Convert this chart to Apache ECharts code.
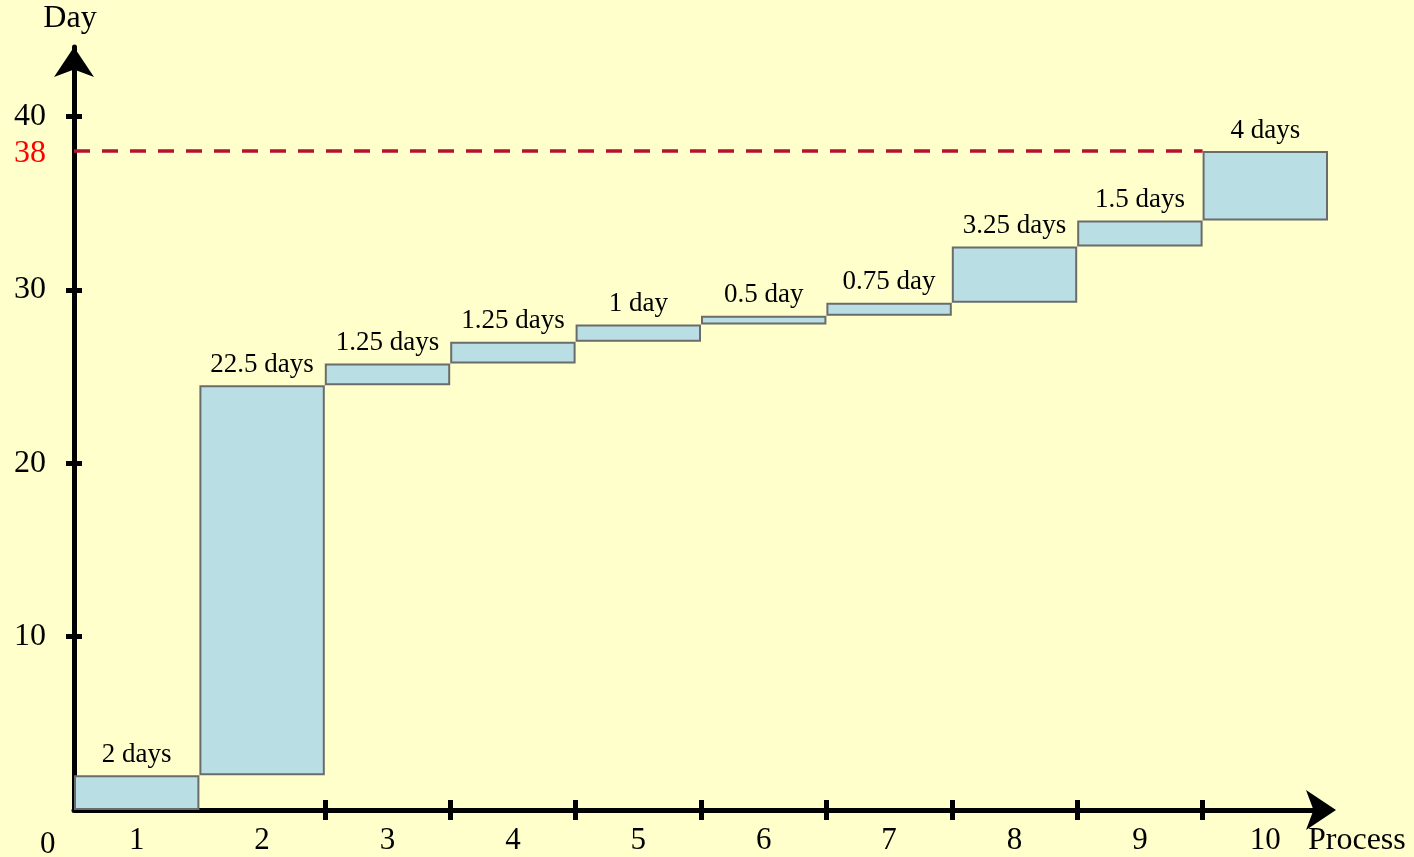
<!DOCTYPE html>
<html>
<head>
<meta charset="utf-8">
<script src="https://cdn.jsdelivr.net/npm/echarts@6/dist/echarts.min.js"></script>
<style>
  html, body { margin: 0; padding: 0; background: #FFFFCC; }
  #chart { width: 1414px; height: 857px; }
</style>
</head>
<body>
<div id="chart"></div>
<script>
// 工序与每道工序的天数
const processes = ['1', '2', '3', '4', '5', '6', '7', '8', '9', '10'];
const durations = [2, 22.5, 1.25, 1.25, 1, 0.5, 0.75, 3.25, 1.5, 4];
const yTickValues = [10, 20, 30, 40];
const xTickBoundaries = [2, 3, 4, 5, 6, 7, 8, 9];
const deadline = 38;

// 瀑布图的底座（累计天数）
const bases = [];
let acc = 0;
durations.forEach(d => { bases.push(acc); acc += d; });

const FONT = "'Liberation Serif', 'DejaVu Serif', serif";
const tickStyle = { color: '#000', width: 5 };

const chart = echarts.init(document.getElementById('chart'));
chart.setOption({
  animation: false,
  backgroundColor: '#FFFFCC',
  textStyle: { fontFamily: FONT, color: '#000' },
  grid: { left: 74, right: 86, top: 47, bottom: 42, containLabel: false },
  xAxis: [
    {
      type: 'category',
      data: processes,
      position: 'bottom',
      boundaryGap: true,
      axisLine: {
        lineStyle: { color: '#000', width: 5 },
        symbol: ['none', 'arrow'],
        symbolSize: [30, 30],
        symbolOffset: [0, 8]
      },
      axisTick: { show: false },
      axisLabel: { fontSize: 31, color: '#000', fontFamily: FONT, margin: 15 },
      splitLine: { show: false },
      name: 'Process',
      nameLocation: 'end',
      nameGap: -20,
      nameTextStyle: { fontSize: 32, color: '#000', fontFamily: FONT, align: 'left', verticalAlign: 'top', padding: [15, 0, 0, 0] }
    },
    {
      // 工序分界处的刻度（向外）
      type: 'value',
      position: 'bottom',
      min: 0,
      max: processes.length,
      axisLine: { show: false },
      axisTick: { show: true, customValues: xTickBoundaries, length: 10, lineStyle: tickStyle },
      axisLabel: { show: false },
      splitLine: { show: false }
    },
    {
      // 工序分界处的刻度（向内），同时给截止线用
      type: 'value',
      position: 'bottom',
      min: 0,
      max: processes.length,
      axisLine: { show: false },
      axisTick: { show: true, inside: true, customValues: xTickBoundaries, length: 10, lineStyle: tickStyle },
      axisLabel: { show: false },
      splitLine: { show: false }
    }
  ],
  yAxis: [
    {
      type: 'value',
      position: 'left',
      min: 0,
      max: 44,
      offset: 2,
      axisLine: {
        show: true,
        lineStyle: { color: '#000', width: 5 },
        symbol: ['none', 'arrow'],
        symbolSize: [30, 30]
      },
      axisTick: { show: true, customValues: yTickValues, length: 8, lineStyle: tickStyle },
      axisLabel: {
        customValues: yTickValues.concat([deadline]),
        fontSize: 32,
        color: '#000',
        fontFamily: FONT,
        margin: 26,
        formatter: v => v === deadline ? '{r|' + v + '}' : String(v),
        rich: { r: { color: '#FF0000', fontSize: 32, fontFamily: FONT, padding: [6, 0, 0, 0] } }
      },
      splitLine: { show: false },
      name: 'Day',
      nameLocation: 'end',
      nameGap: 12,
      nameTextStyle: { fontSize: 32, color: '#000', fontFamily: FONT, padding: [0, 8, 0, 0] }
    },
    {
      type: 'value',
      position: 'left',
      min: 0,
      max: 44,
      offset: 2,
      axisLine: { show: false },
      axisTick: { show: true, inside: true, customValues: yTickValues, length: 8, lineStyle: tickStyle },
      axisLabel: { show: false },
      splitLine: { show: false }
    }
  ],
  graphic: [
    {
      type: 'text',
      left: 40,
      top: 829,
      style: { text: '0', font: '31px ' + FONT, fill: '#000' }
    }
  ],
  series: [
    {
      name: 'base',
      type: 'bar',
      stack: 'total',
      xAxisIndex: 0,
      yAxisIndex: 0,
      barCategoryGap: '0%',
      itemStyle: { color: 'transparent' },
      silent: true,
      data: bases
    },
    {
      name: 'days',
      type: 'bar',
      stack: 'total',
      xAxisIndex: 0,
      yAxisIndex: 0,
      barCategoryGap: '0%',
      itemStyle: { color: '#B9DFE5', borderColor: '#6B6B6B', borderWidth: 2 },
      label: {
        show: true,
        position: 'top',
        distance: 7,
        fontSize: 27,
        color: '#000',
        fontFamily: FONT,
        formatter: p => p.value + (p.value > 1 ? ' days' : ' day')
      },
      data: durations
    },
    {
      name: 'deadline',
      type: 'line',
      xAxisIndex: 2,
      yAxisIndex: 0,
      symbol: 'none',
      silent: true,
      lineStyle: { color: '#B5122E', width: 3.5, type: [16, 12] },
      data: [[0, deadline], [processes.length - 1, deadline]]
    }
  ]
});
</script>
</body>
</html>
